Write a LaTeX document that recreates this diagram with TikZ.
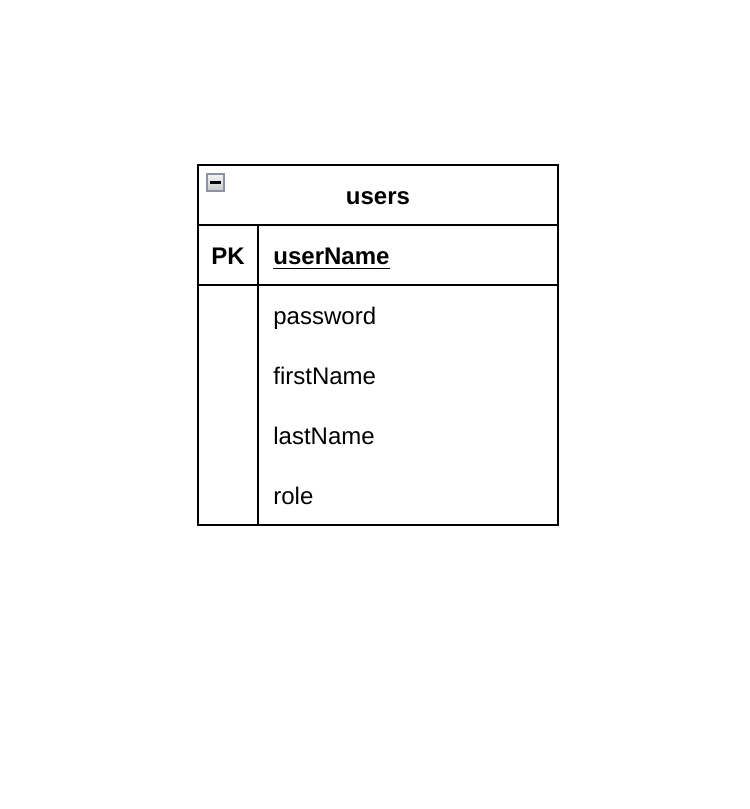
\documentclass[tikz,border=0pt]{standalone}
\usepackage{fontspec}
\setmainfont{Liberation Sans}
\definecolor{iconedge}{HTML}{8A94A6}
\definecolor{icontop}{HTML}{F4F4F4}
\definecolor{iconbot}{HTML}{C8C8C8}
\begin{document}
\begin{tikzpicture}[x=0.5pt,y=-0.5pt]

      \useasboundingbox (0,0) rectangle (750,809);

      % table frame
      \begin{scope}[line width=1pt]
        \draw (198,165) rectangle (558,525);
        \draw (198,225) -- (558,225);
        \draw (198,285) -- (558,285);
        \draw (258,225) -- (258,525);
      \end{scope}

      % collapse icon
      \shade[top color=icontop,bottom color=iconbot,draw=iconedge,line width=0.6pt]
        (207,174) rectangle (224,191);
      \draw[line width=1.2pt] (210,182.5) -- (221,182.5);

      \begin{scope}[every node/.style={inner sep=0pt,font=\fontsize{12}{14}\selectfont}]
        \node[anchor=base,font=\fontsize{12}{14}\selectfont\bfseries] (title) at (378,204) {users};
        \node[anchor=base,font=\fontsize{12}{14}\selectfont\bfseries] (pk) at (228,264) {PK};
        \node[anchor=base west,font=\fontsize{12}{14}\selectfont\bfseries] (username) at (273,264) {userName};
        \draw[line width=0.8pt] ([yshift=-2.2pt]username.base west) -- ([yshift=-2.2pt]username.base east);
        \node[anchor=base west] (password)  at (273,324) {password};
        \node[anchor=base west] (firstname) at (273,384) {firstName};
        \node[anchor=base west] (lastname)  at (273,444) {lastName};
        \node[anchor=base west] (role)      at (273,504) {role};
      \end{scope}

    \end{tikzpicture}
\end{document}
